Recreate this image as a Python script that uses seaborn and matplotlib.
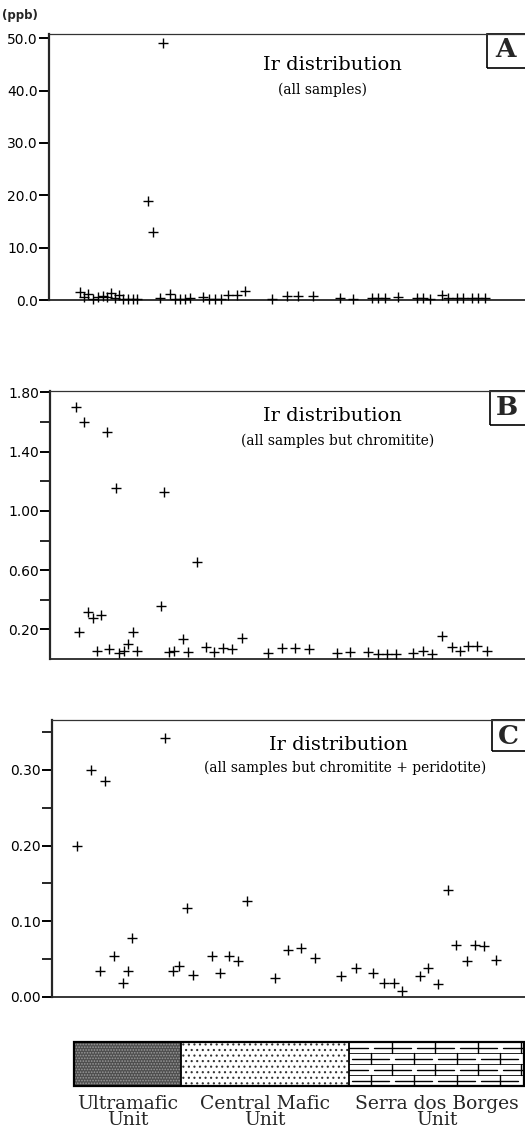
import numpy as np
import pandas as pd
import matplotlib
matplotlib.use("Agg")
import matplotlib.pyplot as plt
from matplotlib.patches import Rectangle
from matplotlib.ticker import FixedLocator
import seaborn as sns

# ---------------- data (Ir, ppb) ----------------
# panel A : all samples  (position along section, Ir ppb)
a_pos = [80, 84, 88.3, 93.3, 98.3, 102.7, 106.7, 111, 115, 119.3, 123.3, 127.7,
         132.7, 137.3, 148.3, 153.3, 163.3, 160, 170, 175, 180, 185, 190, 203.3,
         209, 215, 220.7, 228.3, 236.7, 245, 271.7, 286.7, 298.3, 313.3, 340,
         353.3, 371.7, 378.3, 385, 398.3, 416.7, 423.3, 430, 441.7, 448.3, 456.7,
         463.3, 471.7, 478.3, 485]
a_ir = [1.5, 0.5, 1.2, 0.2, 0.5, 0.8, 0.5, 1.3, 0.3, 1.0, 0.2, 0.2,
        0.2, 0.2, 19.0, 12.9, 49.1, 0.4, 1.1, 0.2, 0.2, 0.2, 0.3, 0.5,
        0.1, 0.1, 0.1, 1.0, 1.0, 1.8, 0.1, 0.7, 0.7, 0.7, 0.3,
        0.1, 0.3, 0.3, 0.3, 0.5, 0.3, 0.3, 0.2, 1.0, 0.3, 0.3,
        0.3, 0.3, 0.3, 0.3]

# panel B : all samples but chromitite
b_pos = [76, 79, 84.3, 87.7, 93.3, 97.3, 101, 106.7, 109, 116, 119, 124, 128.3,
         132.7, 137.3, 160.7, 164.3, 169.3, 174.3, 183, 188.3, 196.7, 205.7,
         214.3, 223.3, 231.7, 241.7, 268.3, 281.7, 295, 309.3, 336.7, 350,
         368.3, 377.7, 386.7, 396, 413.3, 422.7, 432.3, 441.7, 451.7, 460,
         468.3, 477.3, 486.7]
b_ir = [1.70, 0.18, 1.60, 0.315, 0.275, 0.054, 0.297, 1.53, 0.068, 1.153, 0.038,
        0.056, 0.10, 0.18, 0.054, 0.36, 1.126, 0.045, 0.054, 0.135, 0.045,
        0.653, 0.079, 0.05, 0.077, 0.066, 0.144, 0.038, 0.074, 0.074, 0.07,
        0.038, 0.05, 0.045, 0.034, 0.032, 0.032, 0.043, 0.054, 0.034, 0.155,
        0.079, 0.056, 0.088, 0.088, 0.056]

# panel C : all samples but chromitite + peridotite
c_pos = [77.3, 91, 100, 105, 114, 122.7, 128.3, 131.7, 165, 173.3, 179.3, 187.3,
         193, 211.5, 220, 229, 238, 246.7, 275, 288, 301, 315, 341, 355.5, 373,
         384.3, 394, 401.7, 420, 428, 438.3, 447.7, 456, 466.5, 475, 484, 495.5]
c_ir = [0.20, 0.30, 0.034, 0.285, 0.054, 0.018, 0.034, 0.078, 0.342, 0.034,
        0.041, 0.118, 0.029, 0.054, 0.032, 0.054, 0.048, 0.127, 0.025, 0.062,
        0.065, 0.051, 0.028, 0.038, 0.032, 0.018, 0.018, 0.008, 0.028, 0.038,
        0.017, 0.141, 0.069, 0.047, 0.069, 0.068, 0.049]

a_ticks = [0, 10, 20, 30, 40, 50]
a_ticklabels = ["0.0", "10.0", "20.0", "30.0", "40.0", "50.0"]
b_ticks = [0.20, 0.60, 1.00, 1.40, 1.80]
b_ticklabels = ["0.20", "0.60", "1.00", "1.40", "1.80"]
b_minor = [0.40, 0.80, 1.20, 1.60]
c_ticks = [0.00, 0.10, 0.20, 0.30]
c_ticklabels = ["0.00", "0.10", "0.20", "0.30"]
c_minor = [0.05, 0.15, 0.25, 0.35]

titles = ["Ir distribution", "Ir distribution", "Ir distribution"]
subtitles = ["(all samples)", "(all samples but chromitite)",
             "(all samples but chromitite + peridotite)"]
letters = ["A", "B", "C"]

unit_names = ["Ultramafic\nUnit", "Central Mafic\nUnit", "Serra dos Borges\nUnit"]
unit_edges = [74, 181, 349, 524]

# ---------------- style ----------------
sns.set_style("ticks")
plt.rcParams["font.family"] = ["DejaVu Sans"]
plt.rcParams["hatch.linewidth"] = 0.8

W, H = 525, 1132
fig = plt.figure(figsize=(W / 100, H / 100), dpi=100)
fig.patch.set_facecolor("white")


def rect(l, t, r, b):
    return [l / W, 1 - b / H, (r - l) / W, (b - t) / H]


panels = [
    dict(box=(49, 34, 525, 300), pos=a_pos, val=a_ir, ylim=(0, 50.8),
         ticks=a_ticks, labels=a_ticklabels, minor=[],
         tpos=(0.595, 0.883), spos=(0.575, 0.79),
         lbox=(0.92, 0.872), lpos=(0.958, 0.94)),
    dict(box=(50, 391, 525, 659), pos=b_pos, val=b_ir, ylim=(0, 1.81),
         ticks=b_ticks, labels=b_ticklabels, minor=b_minor,
         tpos=(0.595, 0.905), spos=(0.605, 0.815),
         lbox=(0.926, 0.874), lpos=(0.962, 0.937)),
    dict(box=(52, 720, 525, 997), pos=c_pos, val=c_ir, ylim=(0, 0.366),
         ticks=c_ticks, labels=c_ticklabels, minor=c_minor,
         tpos=(0.605, 0.908), spos=(0.62, 0.826),
         lbox=(0.93, 0.888), lpos=(0.964, 0.942)),
]

for i, p in enumerate(panels):
    l, t, r, b = p["box"]
    ax = fig.add_axes(rect(l, t, r, b))
    df = pd.DataFrame({"pos": p["pos"], "ir": p["val"]})
    sns.scatterplot(data=df, x="pos", y="ir", marker="+", color="black",
                    s=45, linewidth=1.0, ax=ax, clip_on=False, zorder=3)
    ax.set_xlim(l, r)
    ax.set_ylim(*p["ylim"])
    ax.set_xlabel("")
    ax.set_ylabel("")
    ax.set_xticks([])
    ax.yaxis.set_major_locator(FixedLocator(p["ticks"]))
    ax.set_yticklabels(p["labels"])
    if p["minor"]:
        ax.yaxis.set_minor_locator(FixedLocator(p["minor"]))
    ax.tick_params(axis="y", which="major", length=7, width=1.4, pad=1,
                   labelsize=10, colors="black")
    ax.tick_params(axis="y", which="minor", length=7, width=1.4)
    ax.spines["right"].set_visible(False)
    ax.spines["left"].set_linewidth(1.6)
    ax.spines["bottom"].set_linewidth(1.3)
    ax.spines["top"].set_visible(True)
    ax.spines["top"].set_linewidth(0.9)
    ax.spines["top"].set_color("#333333")
    for lab in ax.get_yticklabels():
        lab.set_fontweight("medium")

    ax.text(p["tpos"][0], p["tpos"][1], titles[i], transform=ax.transAxes,
            ha="center", va="center", fontsize=14, family="DejaVu Serif",
            color="black")
    ax.text(p["spos"][0], p["spos"][1], subtitles[i], transform=ax.transAxes,
            ha="center", va="center", fontsize=9.9, family="DejaVu Serif",
            color="black")
    bx, by = p["lbox"]
    ax.add_patch(Rectangle((bx, by), 0.2, 1.0 - by, transform=ax.transAxes,
                           fill=False, edgecolor="black", linewidth=1.2,
                           clip_on=False))
    ax.text(p["lpos"][0], p["lpos"][1], letters[i], transform=ax.transAxes,
            ha="center", va="center", fontsize=19, fontweight="bold",
            family="DejaVu Serif")

fig.text(2 / W, 1 - 15 / H, "(ppb)", ha="left", va="center", fontsize=8.5,
         fontweight="bold")

# ---------------- unit legend bar ----------------
lax = fig.add_axes(rect(74, 1042, 524, 1086))
lax.set_xlim(unit_edges[0], unit_edges[-1])
lax.set_ylim(0, 1)
lax.axis("off")

# Ultramafic: dark stipple
lax.add_patch(Rectangle((unit_edges[0], 0), unit_edges[1] - unit_edges[0], 1,
                        facecolor="#4e4e4e", edgecolor="#9a9a9a",
                        hatch="......", linewidth=0))
# Central mafic: sparse dots
lax.add_patch(Rectangle((unit_edges[1], 0), unit_edges[2] - unit_edges[1], 1,
                        facecolor="white", edgecolor="#333333", hatch="...",
                        linewidth=0))
# Serra dos Borges: brick pattern
x0, x1 = unit_edges[2], unit_edges[3]
nrows = 4
brick = 43
for rr in range(nrows):
    y_lo, y_hi = rr / nrows, (rr + 1) / nrows
    off = (brick / 2) * (rr % 2)
    starts = np.arange(x0 - brick + off, x1, brick)
    for s0 in starts:
        a0, a1 = max(s0 + 3, x0), min(s0 + brick - 3, x1)
        if a1 <= a0:
            continue
        ym = (y_lo + y_hi) / 2
        lax.plot([a0, a1], [ym, ym], color="black", lw=1.0)
    if rr > 0:
        lax.plot([x0, x1], [y_lo, y_lo], color="black", lw=0.6)
    for xv in np.arange(x0 + off + brick / 2, x1, brick):
        lax.plot([xv, xv], [y_lo, y_hi], color="black", lw=1.0)

for e in unit_edges[1:-1]:
    lax.plot([e, e], [0, 1], color="black", lw=1.3)
lax.add_patch(Rectangle((unit_edges[0], 0), unit_edges[-1] - unit_edges[0], 1,
                        fill=False, edgecolor="black", linewidth=1.6,
                        clip_on=False))

for k, name in enumerate(unit_names):
    cx = (unit_edges[k] + unit_edges[k + 1]) / 2
    fig.text(cx / W, 1 - 1112 / H, name, ha="center", va="center",
             fontsize=13.5, family="DejaVu Serif", linespacing=0.88)

fig.savefig("out.png", dpi=100, facecolor="white")
